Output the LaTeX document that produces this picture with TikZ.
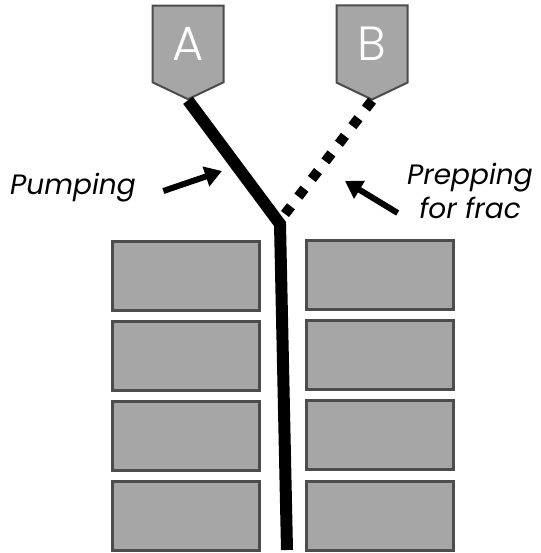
\documentclass[tikz,border=0pt]{standalone}
\usepackage{fontspec}
\setmainfont{Poppins}
\newfontfamily\lightfont{Poppins Light}
\usetikzlibrary{arrows.meta,shapes.symbols}

\begin{document}
\begin{tikzpicture}[
  x=1pt, y=-1pt,
  valve/.style={signal,signal to=south,signal pointer angle=129,draw=black!70,
                line width=2pt,fill=black!35,minimum width=71pt,minimum height=84pt,
                inner sep=0pt,text=white,font=\lightfont\fontsize{48}{48}\selectfont},
  zone/.style={draw=black!70,line width=2.2pt,fill=black!35,minimum width=147pt,
               minimum height=69pt,inner sep=0pt},
  pipe/.style={line width=12pt,line join=miter},
  prep/.style={line width=10pt,dash pattern=on 10pt off 12.2pt},
  point/.style={-{Triangle[length=17pt,width=20pt]},line width=6pt},
  lbl/.style={font=\fontsize{28}{34}\selectfont\itshape,align=center}]

\useasboundingbox (0,0) rectangle (540,553);

\node[valve] (A) at (188,44) {A};
\node[valve] (B) at (372,44) {B};

% zones left and right of the well
\node[zone] (l1) at (186,276) {};
\node[zone] (l2) at (186,356) {};
\node[zone] (l3) at (186,436) {};
\node[zone] (l4) at (186,516) {};
\node[zone] (r1) at (380,275) {};
\node[zone] (r2) at (380,355) {};
\node[zone] (r3) at (380,435) {};
\node[zone] (r4) at (380,516) {};

\coordinate (junc) at (280,224);
\coordinate (bot) at (287,550);
\coordinate (bend) at (285,214);

\draw[pipe] (A.south) -- (junc) -- (bot);
\draw[prep] (B.south) -- (bend);

\node[lbl] (pump) at (73,188) {Pumping};
\node[lbl] (frac) at (470,191) {Prepping\\for frac};
\coordinate (pumptip) at (222,171);
\coordinate (fractip) at (345,181);
\draw[point] (pump.east) ++(24,3) -- (pumptip);
\draw[point] (frac.west) ++(-6,22) -- (fractip);
\end{tikzpicture}
\end{document}
